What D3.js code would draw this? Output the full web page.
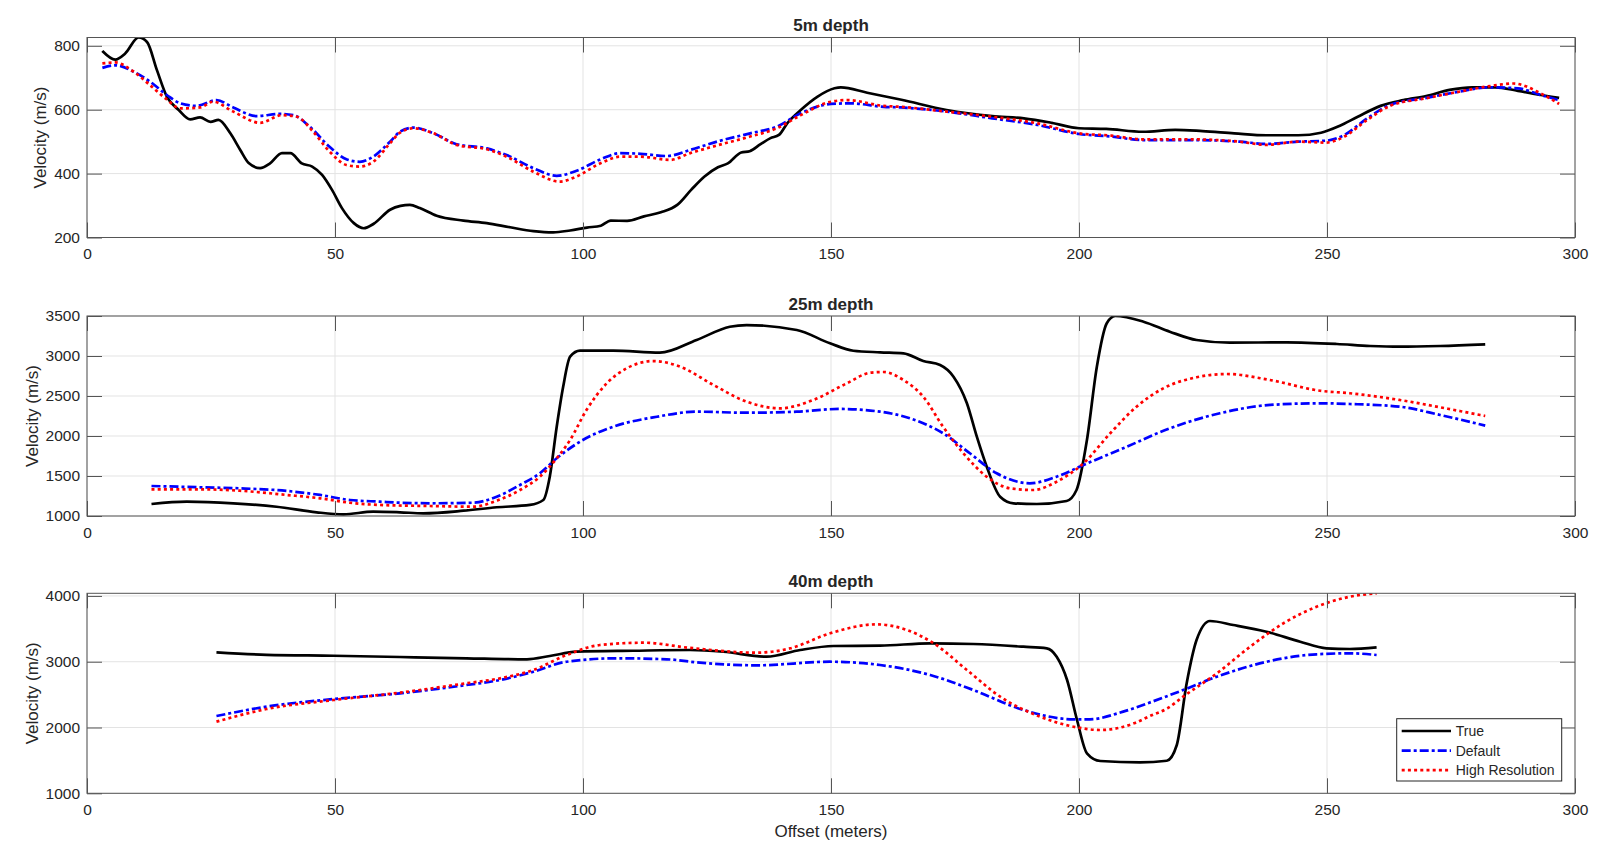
<!DOCTYPE html>
<html>
<head>
<meta charset="utf-8">
<script src="https://cdn.jsdelivr.net/npm/d3@7"></script>
<style>
  body { margin: 0; background: #ffffff; }
  text { font-family: Arial, "Liberation Sans", Helvetica, sans-serif; fill: #262626; }
</style>
</head>
<body>
<div id="chart"></div>
<script>

// tick labels and titles
var xTicks = [0, 50, 100, 150, 200, 250, 300];
var yTicks5 = [200, 400, 600, 800];
var yTicks25 = [1000, 1500, 2000, 2500, 3000, 3500];
var yTicks40 = [1000, 2000, 3000, 4000];
var panelTitles = ["5m depth", "25m depth", "40m depth"];
var seriesNames = ["True", "Default", "High Resolution"];

// 5m depth, [offset, velocity]
var true5 = [[3.1,784],[5.7,757],[7.7,776],[10.4,826],[12.1,812],[14.1,724],[16.1,641],[18.5,599],[20.8,570],[22.8,576],[24.9,562],[26.5,568],[28.9,526],[30.9,474],[32.6,433],[34.9,417],[36.9,432],[39.3,464],[41,464],[43.3,432],[45.4,422],[47.4,396],[49.4,349],[51.4,292],[53.8,245],[55.8,229],[57.8,243],[61.1,287],[63.2,299],[65.1,302],[67.1,292],[70.5,268],[75.9,253],[80.6,245],[85.3,232],[90,220],[94,216],[97.4,222],[100.8,231],[103.6,237],[105.6,253],[108.9,252],[112.3,266],[115.7,279],[119,302],[121.8,349],[124.5,391],[127.2,420],[129.2,432],[131.9,466],[133.6,470],[135.8,492],[137.8,511],[139.5,521],[141.2,558],[143.9,599],[147.3,641],[150.7,667],[152,670],[157.3,653],[164.2,631],[173.3,599],[182.5,580],[188.9,573],[194.5,559],[200,542],[205.5,540],[212.9,531],[219.4,537],[224.9,533],[231.3,526],[237.8,520],[244.2,520],[248.8,528],[252.5,549],[256.2,578],[260.8,612],[265.4,630],[270,643],[274.7,662],[279.3,670],[283.9,670],[288.5,659],[293.1,646],[296.8,637]];
var default5 = [[3.1,731],[5.7,739],[9.4,719],[12.7,688],[16.1,646],[18.8,620],[22.1,612],[26.1,630],[29.5,607],[34.2,580],[38.9,587],[41.6,583],[44.9,547],[48.9,484],[52.3,445],[55,437],[57.7,453],[61.1,500],[63.1,531],[65.8,544],[69.9,526],[74.5,492],[80.6,479],[84.6,458],[90,417],[94.7,393],[98.7,409],[103.6,445],[107.5,464],[111.6,462],[116.9,455],[121.6,474],[127,500],[133.7,526],[139.1,547],[143.9,589],[150,618],[154,620],[160.6,609],[164.1,607],[173.3,594],[182.5,573],[191.7,552],[200,524],[206.5,516],[212.9,505],[223,505],[232.3,500],[237.8,493],[244.2,500],[249.8,503],[253.5,521],[258.1,573],[262.7,615],[270,637],[276.5,656],[282.9,670],[288.5,667],[293.1,646],[296.8,630]];
var highres5 = [[3.1,745],[5.7,748],[9.4,719],[12.7,677],[16.1,632],[18.8,604],[22.8,607],[25.4,625],[29.5,594],[34.9,559],[39.3,583],[42.3,578],[45.6,531],[48.9,469],[52.3,427],[55,422],[57.7,437],[61.1,495],[63.1,528],[65.8,542],[69.9,526],[74.5,490],[80.6,476],[84.6,453],[90,406],[95.3,375],[98.7,391],[103.6,433],[107.5,453],[111.6,453],[117.6,443],[121.6,464],[127,488],[133.7,516],[139.1,542],[143.9,583],[150,625],[153.3,630],[160.6,612],[164.1,609],[173.3,594],[182.5,578],[191.7,557],[200,526],[206.5,519],[212.9,507],[223,507],[232.3,500],[237.8,490],[244.2,500],[249.8,497],[253.5,516],[258.1,568],[262.7,612],[270,636],[276.5,656],[282.9,674],[287.6,682],[293.1,651],[296.8,618]];

// 25m depth
var true25 = [[13,1150],[20.1,1179],[29.5,1159],[38.2,1116],[46.3,1046],[51.7,1021],[57.7,1054],[63.1,1046],[67.8,1034],[75.9,1066],[82.6,1109],[89.3,1138],[92,1200],[93.3,1491],[94.7,2116],[96,2616],[97.4,2991],[99.4,3066],[106.1,3066],[115.5,3041],[122.9,3200],[129.6,3366],[133,3387],[143.1,3325],[149.8,3159],[154.5,3066],[159.9,3046],[164.6,3034],[168.6,2937],[172,2887],[174.7,2741],[177.4,2409],[179.4,1991],[181.4,1616],[184.1,1241],[186.8,1159],[191.5,1150],[197.5,1188],[199.5,1325],[201.6,1950],[203.6,2866],[205.6,3409],[207.3,3500],[213,3429],[218.3,3304],[223.7,3200],[230.4,3166],[241.9,3171],[252,3150],[258.7,3125],[264.7,3116],[272.8,3125],[281.9,3146]];
var default25 = [[13,1375],[22.8,1359],[30.8,1346],[40.3,1313],[47,1263],[53,1200],[59.1,1179],[63.1,1166],[69.2,1159],[77.9,1166],[82.6,1241],[87.3,1388],[91.3,1534],[94.7,1721],[99.4,1929],[106.1,2116],[114.9,2241],[122.9,2304],[133,2291],[143.1,2304],[151.8,2338],[159.9,2304],[165.9,2221],[172.6,2034],[178,1784],[183.4,1534],[190.1,1409],[195.5,1491],[200.9,1638],[208.9,1846],[218.3,2096],[228.4,2284],[238.5,2388],[248.6,2409],[254.6,2400],[264.7,2366],[272.8,2263],[281.9,2130]];
var highres25 = [[13,1334],[22.8,1334],[30.8,1316],[40.3,1263],[47,1221],[53,1166],[59.1,1138],[69.2,1125],[77.9,1116],[82.6,1191],[87.3,1325],[91.3,1491],[94.7,1721],[97.4,1950],[100.7,2325],[104.8,2659],[108.8,2846],[114.2,2937],[119.6,2866],[126.3,2638],[133,2429],[139.7,2346],[146.4,2450],[153.2,2659],[157.9,2791],[160.6,2800],[164.6,2700],[168.6,2491],[172.6,2116],[176.7,1784],[181.4,1491],[186.1,1346],[190.8,1325],[195.5,1429],[200.9,1659],[206.3,2034],[211.6,2366],[217,2596],[223.7,2734],[229.8,2775],[238.5,2700],[248.6,2566],[254.6,2534],[264.7,2450],[272.8,2359],[281.9,2250]];

// 40m depth
var true40 = [[26.1,3143],[36.2,3105],[49.7,3091],[63.1,3072],[76.5,3052],[88.7,3037],[93.3,3087],[98.7,3152],[110.1,3167],[121.6,3178],[128.3,3152],[137,3076],[143.8,3178],[150.5,3239],[159.9,3244],[170,3280],[178.7,3269],[188.8,3228],[193.5,3204],[195.5,3076],[197.6,2722],[199.6,2114],[201.6,1608],[204.3,1491],[212.3,1471],[217.7,1495],[219.7,1730],[221.7,2670],[223.7,3330],[226.4,3619],[231.1,3558],[237.8,3456],[244.6,3304],[249.9,3204],[254.6,3193],[260,3219]];
var default40 = [[26.1,2175],[36.2,2317],[49.7,2433],[63.1,2520],[76.5,2646],[83.3,2722],[90,2848],[96.7,3000],[106.8,3052],[116.9,3037],[123.6,2985],[135,2945],[149.8,3000],[159.9,2950],[170,2798],[178.7,2570],[188.8,2266],[198.9,2125],[202.2,2125],[208.9,2241],[215,2400],[221,2570],[227.8,2772],[234.5,2935],[241.2,3052],[247.9,3113],[254.6,3128],[260,3102]];
var highres40 = [[26.1,2089],[36.2,2281],[49.7,2418],[63.1,2530],[76.5,2672],[83.3,2748],[90,2874],[96.7,3102],[103.4,3254],[112.2,3289],[121.6,3210],[135,3137],[141.8,3204],[149.8,3432],[159.2,3568],[165.3,3482],[170.7,3280],[177.4,2874],[184.1,2469],[192.2,2164],[198.9,2012],[204.3,1962],[211.1,2064],[214.3,2175],[217.8,2290],[221,2469],[227.8,2824],[234.5,3228],[241.2,3584],[247.9,3836],[254.6,3988],[260,4040]];

// set the dimensions of the figure and the panels
var width = 1617, height = 859;
var plotLeft = 87, plotWidth = 1488, plotHeight = 200;
var panelTops = [37.5, 316, 593.3];
var tickLen = 15;

// line styles per series
var styles = [
  {color: "#000000", dash: null},
  {color: "#0000ff", dash: "9,3,3,3"},
  {color: "#ff0000", dash: "3,3.2"}
];

var svg = d3.select("#chart").append("svg")
    .attr("width", width)
    .attr("height", height);

var x = d3.scaleLinear()
    .domain([0, 300])
    .range([0, plotWidth]);

var panels = [
  {series: [true5, default5, highres5], yMin: 200, ticks: yTicks5},
  {series: [true25, default25, highres25], yMin: 1000, ticks: yTicks25},
  {series: [true40, default40, highres40], yMin: 1000, ticks: yTicks40}
];

function makePanel (p, i) {

  var g = svg.append("g")
      .attr("transform", "translate(" + plotLeft + "," + panelTops[i] + ")");

  // y limits are tight to the data maximum
  var yMax = d3.max(p.series, function(s) { return d3.max(s, function(d) { return d[1]; }); });
  var y = d3.scaleLinear()
      .domain([p.yMin, yMax])
      .range([plotHeight, 0]);

  // grid lines
  g.append("g").selectAll("line.gx")
      .data(xTicks)
    .enter().append("line")
      .attr("x1", function(d) { return x(d); })
      .attr("x2", function(d) { return x(d); })
      .attr("y1", 0).attr("y2", plotHeight)
      .attr("stroke", "#e3e3e3").attr("stroke-width", 1);
  g.append("g").selectAll("line.gy")
      .data(p.ticks)
    .enter().append("line")
      .attr("x1", 0).attr("x2", plotWidth)
      .attr("y1", function(d) { return y(d); })
      .attr("y2", function(d) { return y(d); })
      .attr("stroke", "#e3e3e3").attr("stroke-width", 1);

  // clip the lines to the axes box
  svg.append("clipPath").attr("id", "clip" + i)
    .append("rect").attr("width", plotWidth).attr("height", plotHeight);

  var line = d3.line()
      .x(function(d) { return x(d[0]); })
      .y(function(d) { return y(d[1]); })
      .curve(d3.curveMonotoneX);

  g.append("g").attr("clip-path", "url(#clip" + i + ")")
    .selectAll("path")
      .data(p.series)
    .enter().append("path")
      .attr("d", line)
      .attr("fill", "none")
      .attr("stroke", function(d, k) { return styles[k].color; })
      .attr("stroke-width", 2.7)
      .attr("stroke-dasharray", function(d, k) { return styles[k].dash; });

  // axes with inward ticks on all four sides
  var axisColor = "#555555";
  var fmt = d3.format("d");
  var xb = g.append("g")
      .attr("transform", "translate(0," + plotHeight + ")")
      .call(d3.axisBottom(x).tickValues(xTicks).tickFormat(fmt).tickSizeInner(-tickLen).tickSizeOuter(0).tickPadding(10.5));
  var xt = g.append("g")
      .call(d3.axisTop(x).tickValues(xTicks).tickSizeInner(-tickLen).tickSizeOuter(0).tickFormat(""));
  var yl = g.append("g")
      .call(d3.axisLeft(y).tickValues(p.ticks).tickFormat(fmt).tickSizeInner(-tickLen).tickSizeOuter(0).tickPadding(7));
  var yr = g.append("g")
      .attr("transform", "translate(" + plotWidth + ",0)")
      .call(d3.axisRight(y).tickValues(p.ticks).tickSizeInner(-tickLen).tickSizeOuter(0).tickFormat(""));

  [xb, xt, yl, yr].forEach(function(a) {
    a.select(".domain").remove();
    a.selectAll(".tick line").attr("stroke", axisColor);
    a.selectAll(".tick text")
        .style("font-size", "15.5px")
        .style("font-family", "Arial, 'Liberation Sans', Helvetica, sans-serif")
        .attr("fill", "#262626");
  });

  // box
  g.append("rect")
      .attr("width", plotWidth).attr("height", plotHeight)
      .attr("fill", "none")
      .attr("stroke", axisColor).attr("stroke-width", 1);

  // title
  g.append("text")
      .attr("x", plotWidth / 2).attr("y", -6.5)
      .attr("text-anchor", "middle")
      .style("font-size", "17px").style("font-weight", "bold")
      .attr("fill", "#000")
      .text(panelTitles[i]);

  // y label sits just left of the widest tick label
  var labelX = d3.min(yl.selectAll(".tick text").nodes(), function(n) {
    return n.getBBox().x;
  }) - 7.7;
  g.append("text")
      .attr("transform", "translate(" + labelX + "," + (plotHeight / 2) + ") rotate(-90)")
      .attr("text-anchor", "middle")
      .style("font-size", "17px")
      .text("Velocity (m/s)");

  return g;
};

var gs = panels.map(makePanel);

// x label below last panel
svg.append("text")
    .attr("x", plotLeft + plotWidth / 2).attr("y", 837)
    .attr("text-anchor", "middle")
    .style("font-size", "17px")
    .text("Offset (meters)");

// legend in the last panel
var legend = svg.append("g")
    .attr("transform", "translate(1396.7,718.7)");

legend.append("rect")
    .attr("width", 165).attr("height", 62.3)
    .attr("fill", "#fff")
    .attr("stroke", "#262626").attr("stroke-width", 1);

var items = legend.selectAll("g.item")
    .data(seriesNames)
  .enter().append("g")
    .attr("transform", function(d, k) { return "translate(0," + (12.3 + k * 19.6) + ")"; });

items.append("line")
    .attr("x1", 5).attr("x2", 54.3)
    .attr("stroke", function(d, k) { return styles[k].color; })
    .attr("stroke-width", 2.7)
    .attr("stroke-dasharray", function(d, k) { return styles[k].dash; });

items.append("text")
    .attr("x", 59).attr("dy", "0.35em")
    .style("font-size", "14px")
    .attr("fill", "#000")
    .text(function(d) { return d; });

</script>
</body>
</html>
